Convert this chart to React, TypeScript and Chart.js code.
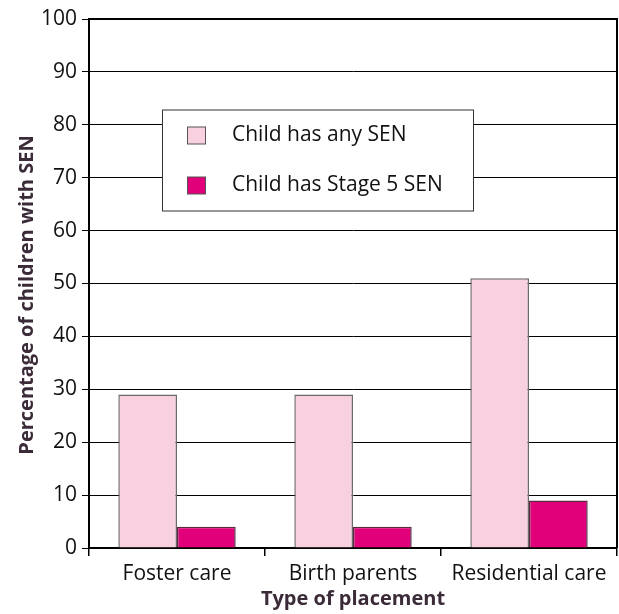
import React, { useEffect, useRef } from "react";
import { Chart, registerables } from "chart.js";

Chart.register(...registerables);

const categories = ["Foster care", "Birth parents", "Residential care"];
const seriesNames = ["Child has any SEN", "Child has Stage 5 SEN"];
const anySEN = [29, 29, 51];
const stage5SEN = [4, 4, 9];
const yTicks = [0, 10, 20, 30, 40, 50, 60, 70, 80, 90, 100];
const xTitle = "Type of placement";
const yTitle = "Percentage of children with SEN";

const FONT = "'Open Sans', 'Noto Sans', sans-serif";
const TEXT = "#111";
const TITLE = "#3b2b38";

const framePlugin = {
  id: "frameAndLegend",
  afterDatasetsDraw(chart: any) {
    const { ctx, chartArea } = chart;
    const { left, right, top, bottom } = chartArea;
    ctx.save();
    ctx.strokeStyle = "#000";
    ctx.lineWidth = 2;
    ctx.beginPath();
    ctx.moveTo(left, top);
    ctx.lineTo(right, top);
    ctx.lineTo(right, bottom);
    ctx.stroke();

    const bx = 162, by = 109.5, bw = 311, bh = 101;
    ctx.fillStyle = "#fff";
    ctx.fillRect(bx, by, bw, bh);
    ctx.strokeStyle = "#333";
    ctx.lineWidth = 1;
    ctx.strokeRect(bx + 0.5, by + 0.5, bw, bh);
    ctx.font = `21px ${FONT}`;
    ctx.textBaseline = "middle";
    ctx.textAlign = "left";
    chart.data.datasets.forEach((ds: any, i: number) => {
      const cy = 135.5 + i * 50;
      ctx.fillStyle = ds.backgroundColor;
      ctx.fillRect(187.5, cy - 8.5, 18, 17);
      ctx.strokeStyle = "#555";
      ctx.lineWidth = 1;
      ctx.strokeRect(187.5, cy - 8.5, 18, 17);
      ctx.fillStyle = TEXT;
      ctx.fillText(ds.label, 232, cy);
    });

    ctx.fillStyle = TITLE;
    ctx.font = `bold 20px ${FONT}`;
    ctx.textAlign = "center";
    ctx.textBaseline = "middle";
    ctx.fillText(xTitle, (left + right) / 2, 599);
    ctx.translate(27, 295);
    ctx.rotate(-Math.PI / 2);
    ctx.fillText(yTitle, 0, 0);
    ctx.restore();
  },
};

export default function App() {
  const ref = useRef<HTMLCanvasElement | null>(null);
  useEffect(() => {
    if (!ref.current) return;
    const chart = new Chart(ref.current, {
      type: "bar",
      data: {
        labels: categories,
        datasets: [
          {
            label: seriesNames[0],
            data: anySEN,
            backgroundColor: "#f8d0df",
            borderColor: "#6e6a6c",
            borderWidth: 1.5,
            categoryPercentage: 0.667,
            barPercentage: 1,
          },
          {
            label: seriesNames[1],
            data: stage5SEN,
            backgroundColor: "#e2007a",
            borderColor: "#5a2a40",
            borderWidth: 1.5,
            categoryPercentage: 0.667,
            barPercentage: 1,
          },
        ],
      },
      options: {
        animation: false,
        responsive: false,
        maintainAspectRatio: false,
        layout: { padding: { top: 19, right: 2, left: 0, bottom: 0 } },
        plugins: { legend: { display: false }, tooltip: { enabled: false }, title: { display: false } },
        scales: {
          x: {
            grid: {
              display: true,
              drawOnChartArea: false,
              drawTicks: true,
              tickLength: 8,
              color: "#000",
              lineWidth: 1.5,
              offset: true,
            },
            border: { display: true, color: "#000", width: 2 },
            ticks: { color: TEXT, font: { family: FONT, size: 21 }, padding: 5 },
            afterFit: (s: any) => {
              s.height = 66;
            },
          },
          y: {
            min: 0,
            max: 100,
            afterBuildTicks: (s: any) => {
              s.ticks = yTicks.map((v) => ({ value: v }));
            },
            grid: { color: "#000", lineWidth: 1, tickLength: 7, drawTicks: true },
            border: { display: true, color: "#000", width: 2 },
            ticks: { color: TEXT, font: { family: FONT, size: 21 }, padding: 5 },
            afterFit: (s: any) => {
              s.width = 89;
            },
          },
        },
      },
      plugins: [framePlugin],
    });
    return () => chart.destroy();
  }, []);
  return (
    <div style={{ position: "fixed", left: 0, top: 0, width: 619, height: 614, background: "#fff" }}>
      <canvas ref={ref} width={619} height={614} style={{ width: 619, height: 614 }} />
    </div>
  );
}
